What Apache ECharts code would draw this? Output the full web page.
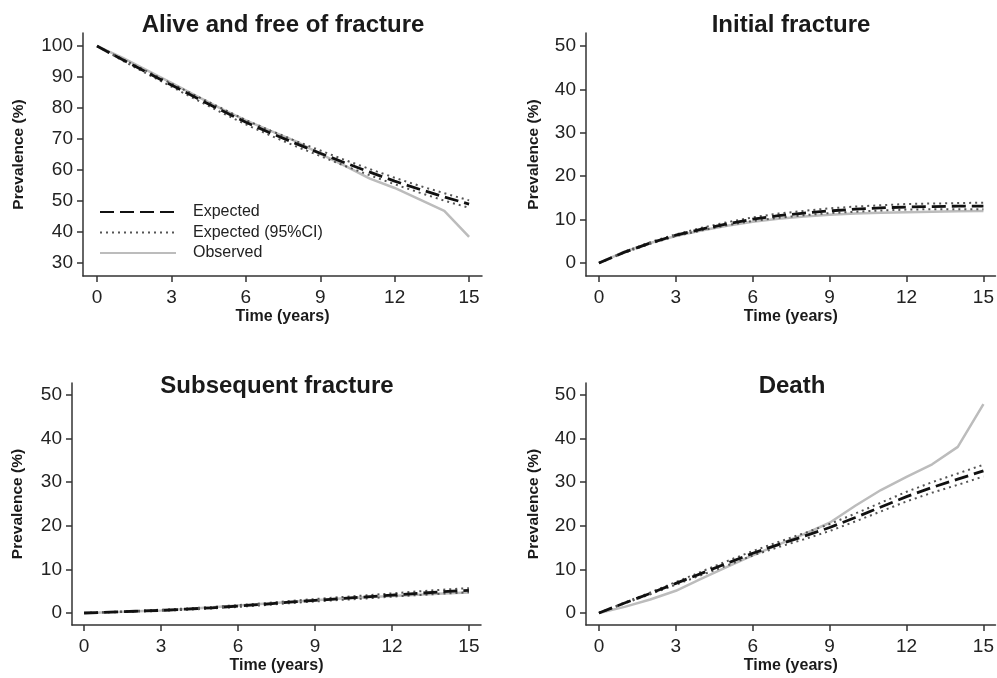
<!DOCTYPE html>
<html><head><meta charset="utf-8">
<script src="https://cdn.jsdelivr.net/npm/echarts@6/dist/echarts.min.js"></script>
<style>html,body{margin:0;padding:0;background:#fff}#c{width:997px;height:678px}</style>
</head><body><div id="c"></div>
<script>
const years = [0,1,2,3,4,5,6,7,8,9,10,11,12,13,14,15];
const xTicks = [0,3,6,9,12,15];
const titles = ['Alive and free of fracture','Initial fracture','Subsequent fracture','Death'];
const yTicks1 = [30,40,50,60,70,80,90,100];
const yTicks = [0,10,20,30,40,50];

const exp1 = [100,95.7,91.5,87.4,83.3,79.3,75.4,71.9,68.6,65.4,62.3,59.3,56.4,53.8,51.3,49.0];
const up1  = [100,95.9,91.9,87.9,83.9,80.0,76.1,72.7,69.4,66.3,63.2,60.3,57.5,54.9,52.5,50.2];
const lo1  = [100,95.4,91.1,86.9,82.7,78.6,74.7,71.1,67.7,64.5,61.3,58.3,55.4,52.7,50.1,47.8];
const obs1 = [100,96.3,92.2,88.1,83.9,79.8,76.0,72.6,69.3,65.2,61.3,57.2,54.2,50.5,46.8,38.4];

const exp2 = [0,2.5,4.6,6.4,7.8,9.0,10.1,10.9,11.5,12.0,12.4,12.7,12.9,13.0,13.1,13.1];
const up2  = [0,2.6,4.8,6.6,8.1,9.4,10.5,11.4,12.0,12.6,13.0,13.3,13.6,13.7,13.8,13.9];
const lo2  = [0,2.4,4.4,6.2,7.5,8.7,9.7,10.4,11.0,11.5,11.8,12.1,12.3,12.4,12.4,12.4];
const obs2 = [0,2.6,4.6,6.2,7.5,8.6,9.5,10.2,10.7,11.1,11.4,11.6,11.7,11.8,11.9,12.0];

const exp3 = [0,0.2,0.4,0.6,0.9,1.2,1.6,2.0,2.5,2.9,3.3,3.7,4.1,4.5,4.9,5.2];
const up3  = [0,0.25,0.5,0.75,1.05,1.4,1.8,2.25,2.75,3.2,3.65,4.05,4.5,4.95,5.35,5.7];
const lo3  = [0,0.15,0.3,0.5,0.75,1.05,1.4,1.8,2.25,2.65,3.0,3.35,3.75,4.1,4.45,4.75];
const obs3 = [0,0.2,0.4,0.6,0.9,1.3,1.7,2.1,2.5,2.9,3.3,3.6,3.9,4.2,4.5,4.7];

const exp4 = [0,2.3,4.5,6.8,9.1,11.4,13.7,15.7,17.6,19.6,21.9,24.3,26.7,28.8,30.7,32.6];
const up4  = [0,2.4,4.7,7.1,9.5,11.9,14.2,16.3,18.3,20.4,22.8,25.3,27.8,30.0,32.0,34.0];
const lo4  = [0,2.2,4.3,6.5,8.7,10.9,13.2,15.1,16.9,18.8,21.0,23.3,25.6,27.6,29.4,31.3];
const obs4 = [0,1.4,3.1,5.1,7.9,10.6,13.2,15.7,18.1,20.7,24.6,28.2,31.2,34.1,38.1,47.9];

const panels = [
  {exp:exp1, up:up1, lo:lo1, obs:obs1, ticks:yTicks1},
  {exp:exp2, up:up2, lo:lo2, obs:obs2, ticks:yTicks},
  {exp:exp3, up:up3, lo:lo3, obs:obs3, ticks:yTicks},
  {exp:exp4, up:up4, lo:lo4, obs:obs4, ticks:yTicks}
];

// layout (positions only)
const grids = [
  {left:83, top:33, width:399, height:243},
  {left:586, top:33, width:410, height:243},
  {left:72, top:383, width:409, height:242},
  {left:586, top:383, width:410, height:242}
];
const xRanges = [[-0.565,15.52],[-0.506,15.47],[-0.47,15.47],[-0.506,15.47]];
const yRanges = [[25.8,104.2],[-3.0,53.0],[-2.75,52.75],[-2.75,52.75]];
const yNameGaps = [56,44,46,44];
const titlePos = [[283,13],[791,13],[277,374],[792,374]];

const FONT = '"Liberation Sans", Arial, sans-serif';
const axisCol = '#333';
const pairs = arr => years.map((t,i)=>[t,arr[i]]);

const option = {
  animation:false,
  backgroundColor:'#fff',
  textStyle:{fontFamily:FONT},
  title: titles.map((t,i)=>({
    text:t, left:titlePos[i][0], top:titlePos[i][1], textAlign:'center', padding:0,
    textStyle:{fontFamily:FONT, fontSize:24, fontWeight:'bold', color:'#1a1a1a'}
  })),
  legend:{
    data:['Expected','Expected (95%CI)','Observed'],
    orient:'vertical', left:99, top:204, padding:0, itemWidth:76, itemHeight:14, itemGap:4.5,
    itemStyle:{opacity:0},
    textStyle:{fontFamily:FONT, fontSize:16, color:'#222', padding:[0,0,0,12]}
  },
  grid: grids,
  xAxis: grids.map((g,i)=>({
    type:'value', gridIndex:i, min:xRanges[i][0], max:xRanges[i][1],
    name:'Time (years)', nameLocation:'middle', nameGap:33,
    nameTextStyle:{fontFamily:FONT, fontSize:16, fontWeight:'bold', color:'#1a1a1a'},
    axisLine:{show:true, onZero:false, lineStyle:{color:axisCol, width:1.5}},
    axisTick:{show:true, length:6, lineStyle:{color:axisCol, width:1.5}, customValues:xTicks},
    axisLabel:{fontFamily:FONT, fontSize:19, color:'#222', margin:12, customValues:xTicks},
    splitLine:{show:false}
  })),
  yAxis: grids.map((g,i)=>({
    type:'value', gridIndex:i, min:yRanges[i][0], max:yRanges[i][1],
    name:'Prevalence (%)', nameLocation:'middle', nameGap:yNameGaps[i], nameRotate:90,
    nameTextStyle:{fontFamily:FONT, fontSize:15.5, fontWeight:'bold', color:'#1a1a1a'},
    axisLine:{show:true, onZero:false, lineStyle:{color:axisCol, width:1.5}},
    axisTick:{show:true, length:6, lineStyle:{color:axisCol, width:1.5}, customValues:panels[i].ticks},
    axisLabel:{fontFamily:FONT, fontSize:19, color:'#222', margin:10, customValues:panels[i].ticks},
    splitLine:{show:false}
  })),
  series: []
};

panels.forEach((p,i)=>{
  option.series.push({
    name:'Observed', type:'line', xAxisIndex:i, yAxisIndex:i, data:pairs(p.obs),
    symbol:'none', lineStyle:{color:'#bcbcbc', width:2.5}, itemStyle:{color:'#bcbcbc'}, z:2
  });
  ['up','lo'].forEach(k=>{
    option.series.push({
      name:'Expected (95%CI)', type:'line', xAxisIndex:i, yAxisIndex:i, data:pairs(p[k]),
      symbol:'none', lineStyle:{color:'#555', width:2, type:[2,4]}, itemStyle:{color:'#555'}, z:3
    });
  });
  option.series.push({
    name:'Expected', type:'line', xAxisIndex:i, yAxisIndex:i, data:pairs(p.exp),
    symbol:'none', lineStyle:{color:'#111', width:2.8, type:[14,6]}, itemStyle:{color:'#111'}, z:4
  });
});

const chart = echarts.init(document.getElementById('c'), null, {renderer:'canvas'});
chart.setOption(option);
</script></body></html>
